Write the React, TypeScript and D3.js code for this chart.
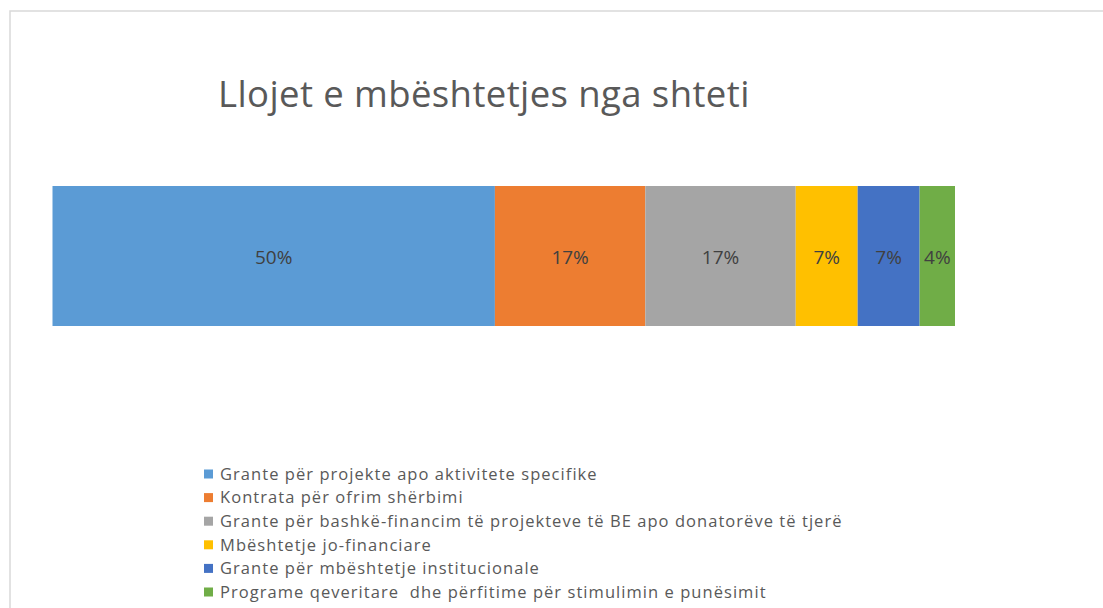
import React from "react";
import * as d3 from "d3";

const categories = [
  "Grante për projekte apo aktivitete specifike",
  "Kontrata për ofrim shërbimi",
  "Grante për bashkë-financim të projekteve të BE apo donatorëve të tjerë",
  "Mbështetje jo-financiare",
  "Grante për mbështetje institucionale",
  "Programe qeveritare  dhe përfitime për stimulimin e punësimit",
];
const values = [50, 17, 17, 7, 7, 4];
const colors = ["#5B9BD5", "#ED7D31", "#A5A5A5", "#FFC000", "#4472C4", "#70AD47"];
const title = "Llojet e mbështetjes nga shteti";

export default function App() {
  const W = 1103, H = 608;
  const total = d3.sum(values);
  const x = d3.scaleLinear().domain([0, total]).range([52.5, 955]);
  const y = d3.scaleBand().domain(["bar"]).range([186, 326]).padding(0);
  const stacked: { start: number; end: number; v: number; i: number }[] = [];
  let acc = 0;
  values.forEach((v, i) => {
    stacked.push({ start: acc, end: acc + v, v, i });
    acc += v;
  });
  const legendY = d3.scaleLinear().domain([0, categories.length - 1]).range([474, 592]);
  const font = "'Open Sans', sans-serif";
  return (
    <svg width={W} height={H} style={{ position: "absolute", left: 0, top: 0, background: "#fff" }}>
      <rect x={10} y={11} width={W + 20} height={H + 20} fill="#fff" stroke="#d9d9d9" strokeWidth={1.5} />
      <text x={218} y={107} fontFamily={font} fontSize={36.5} letterSpacing={0.4} fill="#595959">{title}</text>
      {stacked.map((d) => (
        <g key={d.i}>
          <rect x={x(d.start)} y={y("bar")!} width={x(d.end) - x(d.start)} height={y.bandwidth()} fill={colors[d.i]} />
          <text
            x={(x(d.start) + x(d.end)) / 2}
            y={y("bar")! + y.bandwidth() / 2 + 1}
            dy="0.35em"
            textAnchor="middle"
            fontFamily={font}
            fontSize={19}
            fill="#404040"
          >
            {d.v}%
          </text>
        </g>
      ))}
      {categories.map((c, i) => (
        <g key={c} transform={`translate(204, ${legendY(i)})`}>
          <rect x={0} y={-4.5} width={9} height={9} fill={colors[i]} />
          <text x={16} y={0} dy="0.35em" fontFamily={font} fontSize={16.5} letterSpacing={1.05} fill="#595959" style={{ whiteSpace: "pre" }}>{c}</text>
        </g>
      ))}
    </svg>
  );
}
